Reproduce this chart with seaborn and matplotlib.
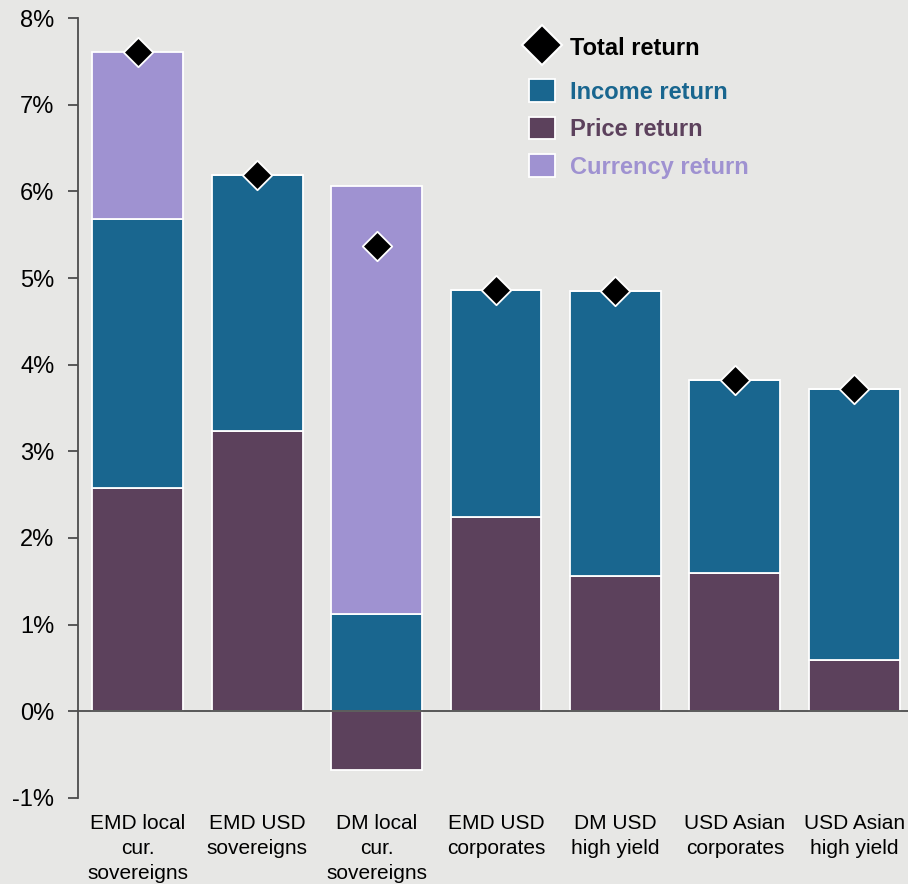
import matplotlib
matplotlib.use("Agg")
import matplotlib.pyplot as plt
import seaborn as sns
import numpy as np
import pandas as pd
from matplotlib.lines import Line2D
from matplotlib.patches import Patch
from matplotlib.ticker import FixedLocator, PercentFormatter

categories = ["EMD local\ncur.\nsovereigns", "EMD USD\nsovereigns", "DM local\ncur.\nsovereigns",
              "EMD USD\ncorporates", "DM USD\nhigh yield", "USD Asian\ncorporates", "USD Asian\nhigh yield"]
price_return = [2.58, 3.23, -0.68, 2.24, 1.56, 1.60, 0.59]
income_return = [3.10, 2.96, 1.12, 2.62, 3.29, 2.22, 3.13]
currency_return = [1.93, 0.0, 4.94, 0.0, 0.0, 0.0, 0.0]
total_return = [7.61, 6.19, 5.37, 4.86, 4.85, 3.82, 3.72]
y_ticks = [-1, 0, 1, 2, 3, 4, 5, 6, 7, 8]

C_INCOME = "#19668f"
C_PRICE = "#5c415c"
C_CURR = "#9f92d1"
BG = "#e7e7e5"
AX_C = "#4d4d4d"

sns.set_style("white")
plt.rcParams["font.family"] = ["Liberation Sans", "DejaVu Sans"]
plt.rcParams["axes.unicode_minus"] = False

fig = plt.figure(figsize=(9.08, 8.84), dpi=100, facecolor=BG)
ax = fig.add_axes([78 / 908, 1 - 798 / 884, 836 / 908, 780 / 884])
ax.set_facecolor(BG)

price = np.array(price_return)
income = np.array(income_return)
curr = np.array(currency_return)
inc_bottom = np.clip(price, 0, None)
cur_bottom = inc_bottom + income

common = dict(width=0.76, edgecolor="white", linewidth=1.3, ax=ax, zorder=2)
sns.barplot(x=categories, y=price, color=C_PRICE, saturation=1, **common)
sns.barplot(x=categories, y=income, bottom=inc_bottom, color=C_INCOME, saturation=1, **common)
sns.barplot(x=categories, y=curr, bottom=cur_bottom, color=C_CURR, saturation=1, **common)
sns.scatterplot(x=categories, y=total_return, marker="D", s=15 ** 2, color="black",
                edgecolor="white", linewidth=1.3, ax=ax, zorder=4)

ax.set_xlim(-0.5, len(categories) - 0.5)
ax.set_ylim(-1, 8)
ax.set_yticks(y_ticks)
ax.yaxis.set_major_formatter(PercentFormatter(decimals=0))

ax.spines["top"].set_visible(False)
ax.spines["right"].set_visible(False)
ax.spines["bottom"].set_position(("data", 0))
for s in ("left", "bottom"):
    ax.spines[s].set_color(AX_C)
    ax.spines[s].set_linewidth(1.3)
    ax.spines[s].set_zorder(5)

ax.xaxis.set_minor_locator(FixedLocator(np.arange(0.5, len(categories) - 0.5, 1)))
ax.tick_params(axis="x", which="major", length=0, pad=74, labelsize=15, labelcolor="black")
ax.tick_params(axis="x", which="minor", length=6, width=1.3, color=AX_C, direction="out")
ax.tick_params(axis="y", length=7, width=1.3, color=AX_C, direction="out", pad=10,
               labelsize=17, labelcolor="black", left=True)
for lbl in ax.get_xticklabels():
    lbl.set_linespacing(1.4)
ax.set_xlabel("")
ax.set_ylabel("")
ax.grid(False)

leg_kw = dict(frameon=False, prop={"weight": "bold", "size": 17}, handlelength=1.1,
              handleheight=1.1, handletextpad=0.63, borderpad=0, borderaxespad=0,
              bbox_transform=fig.transFigure)

h_total = [Line2D([], [], marker="D", color="black", markeredgecolor="white", markeredgewidth=1.5,
                  markersize=20, linestyle="none")]
leg1 = fig.legend(h_total, ["Total return"], loc="center left",
                  bbox_to_anchor=(529 / 908, 1 - 48 / 884), **leg_kw)
leg1.get_texts()[0].set_color("black")

h_parts = [
    Patch(facecolor=C_INCOME, edgecolor="white", linewidth=1.3),
    Patch(facecolor=C_PRICE, edgecolor="white", linewidth=1.3),
    Patch(facecolor=C_CURR, edgecolor="white", linewidth=1.3),
]
leg2 = fig.legend(h_parts, ["Income return", "Price return", "Currency return"], loc="center left",
                  bbox_to_anchor=(529 / 908, 1 - 129 / 884), labelspacing=0.56, **leg_kw)
for t, c in zip(leg2.get_texts(), [C_INCOME, C_PRICE, C_CURR]):
    t.set_color(c)

fig.savefig("out.png", dpi=100, facecolor=BG)
